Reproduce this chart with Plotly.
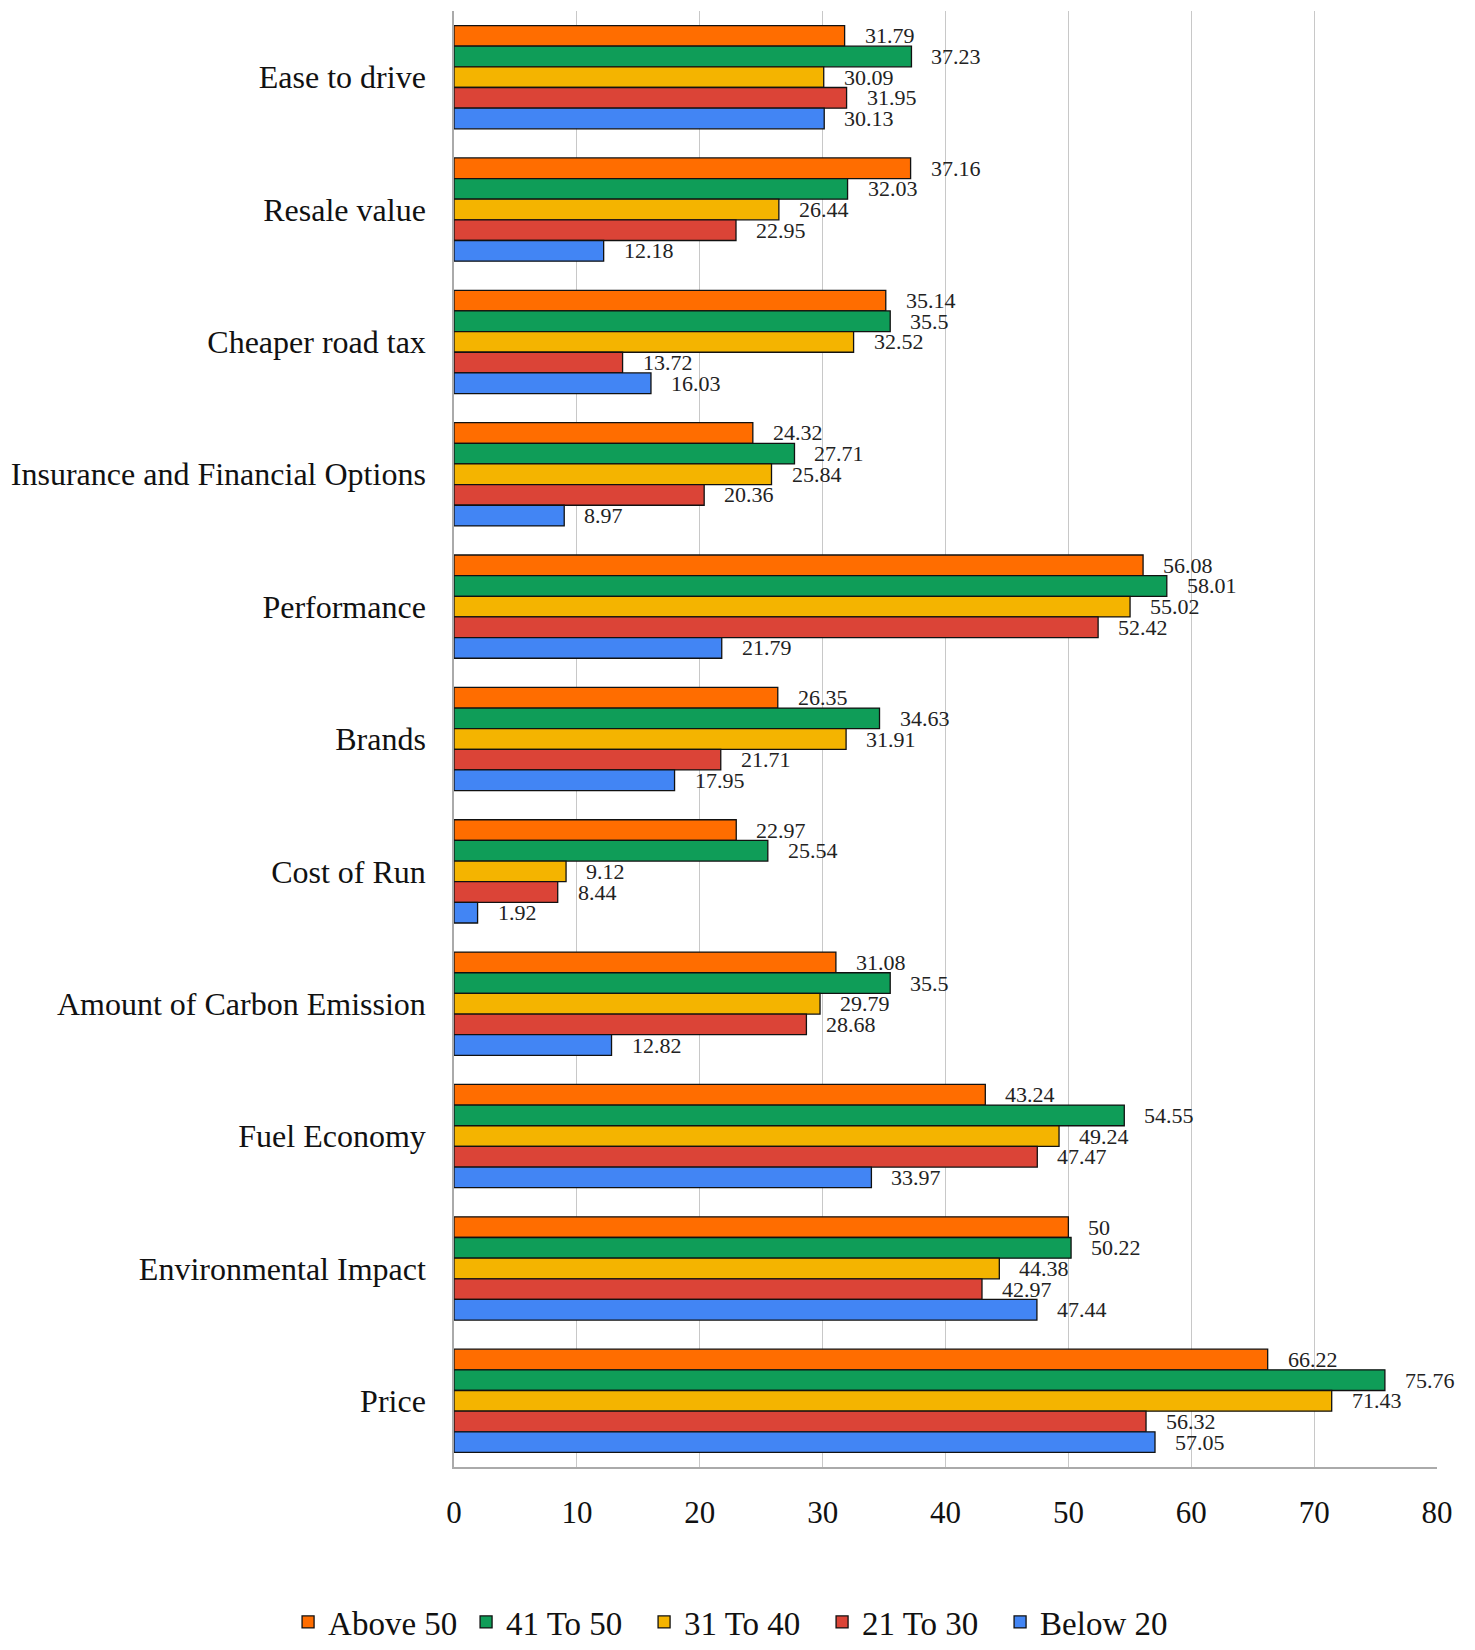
import plotly.graph_objects as go

categories = [
    "Ease to drive",
    "Resale value",
    "Cheaper road tax",
    "Insurance and Financial Options",
    "Performance",
    "Brands",
    "Cost of Run",
    "Amount of Carbon Emission",
    "Fuel Economy",
    "Environmental Impact",
    "Price",
]

above_50 = [31.79, 37.16, 35.14, 24.32, 56.08, 26.35, 22.97, 31.08, 43.24, 50, 66.22]
age_41_50 = [37.23, 32.03, 35.5, 27.71, 58.01, 34.63, 25.54, 35.5, 54.55, 50.22, 75.76]
age_31_40 = [30.09, 26.44, 32.52, 25.84, 55.02, 31.91, 9.12, 29.79, 49.24, 44.38, 71.43]
age_21_30 = [31.95, 22.95, 13.72, 20.36, 52.42, 21.71, 8.44, 28.68, 47.47, 42.97, 56.32]
below_20 = [30.13, 12.18, 16.03, 8.97, 21.79, 17.95, 1.92, 12.82, 33.97, 47.44, 57.05]

series_names = ["Above 50", "41 To 50", "31 To 40", "21 To 30", "Below 20"]
series_values = [above_50, age_41_50, age_31_40, age_21_30, below_20]
series_colors = ["#FF6D00", "#0F9D58", "#F4B400", "#DB4437", "#4285F4"]

x_ticks = [0, 10, 20, 30, 40, 50, 60, 70, 80]

BARGAP = 0.22
FONT = "Liberation Serif, Times New Roman, serif"

fig = go.Figure()
for name, vals, color in zip(series_names, series_values, series_colors):
    fig.add_trace(go.Bar(
        y=categories, x=vals, name=name, orientation="h",
        marker=dict(color=color, line=dict(color="#111111", width=1.3)),
    ))

# value labels placed just past the end of each bar
n = len(series_names)
slot = (1 - BARGAP) / n
annotations = []
for k, vals in enumerate(series_values):
    offset = -(1 - BARGAP) / 2 + (k + 0.5) * slot
    for i, v in enumerate(vals):
        annotations.append(dict(
            x=v, y=i + offset, xref="x", yref="y",
            text=f"{v:g}", showarrow=False,
            xanchor="left", yanchor="middle", xshift=18,
            font=dict(family=FONT, size=22, color="#222222"),
        ))

fig.update_layout(
    width=1475, height=1650,
    margin=dict(l=454, r=38, t=11, b=183),
    paper_bgcolor="white", plot_bgcolor="white",
    barmode="group", bargap=BARGAP, bargroupgap=0,
    font=dict(family=FONT, color="#111111"),
    annotations=annotations,
    legend=dict(
        orientation="h", xref="container", x=0.497, xanchor="center",
        yref="container", y=0.0, yanchor="bottom",
        font=dict(family=FONT, size=33, color="#111111"),
        itemwidth=30, tracegroupgap=0,
        entrywidth=133, entrywidthmode="pixels",
    ),
    showlegend=True,
)

fig.update_xaxes(
    range=[0, 80], tickvals=x_ticks, ticktext=[str(t) for t in x_ticks],
    showgrid=True, gridcolor="#C8C8C8", gridwidth=1,
    showline=True, linecolor="#AAAAAA", linewidth=1.5,
    zeroline=False, ticks="", ticklabelstandoff=17,
    tickfont=dict(family=FONT, size=31, color="#111111"),
)
fig.update_yaxes(
    autorange="reversed", showgrid=False,
    showline=True, linecolor="#AAAAAA", linewidth=1.5,
    ticks="", ticklabelstandoff=20,
    tickfont=dict(family=FONT, size=32, color="#111111"),
)

fig.write_html("out.html")
